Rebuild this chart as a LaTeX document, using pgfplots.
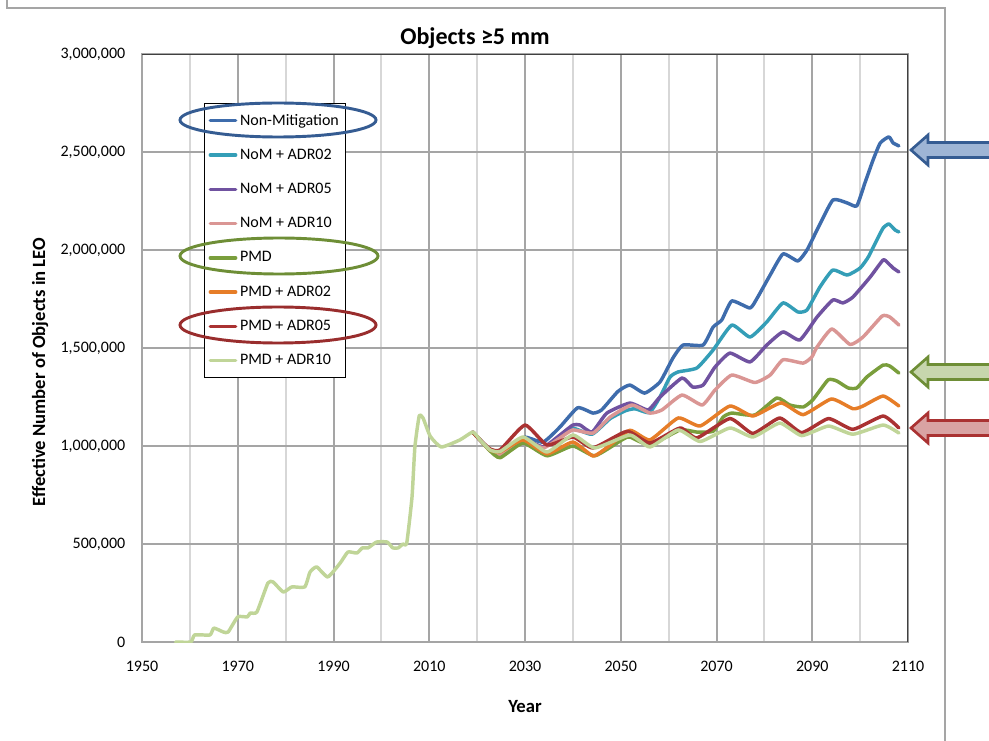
\documentclass[border=0pt]{standalone}
\usepackage{fontspec}
\setmainfont{Carlito}
\usepackage{pgfplots}
\pgfplotsset{compat=1.18}

\definecolor{nm}{RGB}{62,108,172}
\definecolor{a02}{RGB}{52,158,183}
\definecolor{a05}{RGB}{112,82,160}
\definecolor{a10}{RGB}{218,150,148}
\definecolor{pmd}{RGB}{122,158,60}
\definecolor{p02}{RGB}{230,125,40}
\definecolor{p05}{RGB}{170,50,50}
\definecolor{p10}{RGB}{192,213,152}
\definecolor{majgrid}{RGB}{165,165,165}
\definecolor{mingrid}{RGB}{215,215,215}

\begin{document}
\begin{tikzpicture}[x=0.75pt,y=0.75pt]
\path[use as bounding box] (0,0) rectangle (989,740);
\clip (0,0) rectangle (989,740);

% chart area frame
\draw[color=majgrid, line width=1.5pt] (7,760) -- (7,732) -- (945,732) -- (945,-20);

% title
\node[font=\fontsize{18}{20}\selectfont\bfseries] at (475,702) {Objects ≥5 mm};

\coordinate (plotsw) at (142,98);

\begin{axis}[
    at={(plotsw)}, anchor=south west,
    scale only axis, width=574.5pt, height=441pt,
    xmin=1950, xmax=2110, ymin=0, ymax=3000,
    xtick={1950,1970,...,2110},
    xticklabels={1950,1970,1990,2010,2030,2050,2070,2090,2110},
    minor xtick={1960,1980,...,2100},
    ytick={0,500,...,3000},
    yticklabels={0,{500,000},{1,000,000},{1,500,000},{2,000,000},{2,500,000},{3,000,000}},
    major tick length=0pt, minor tick length=0pt,
    grid=both,
    major grid style={color=majgrid, line width=1.5pt},
    minor grid style={color=mingrid, line width=1.6pt},
    axis line style={color=majgrid, line width=1.5pt},
    tick label style={font=\fontsize{12}{14}\selectfont},
    xticklabel style={yshift=-11pt},
    yticklabel style={xshift=-9pt},
    xlabel={Year}, ylabel={Effective Number of Objects in LEO},
    xlabel style={at={(rel axis cs:0.5,-0.109)}, anchor=center, font=\fontsize{14}{16}\selectfont\bfseries},
    ylabel style={at={(rel axis cs:-0.133,0.459)}, rotate=0, anchor=center, font=\fontsize{14}{16}\selectfont\bfseries},
    legend style={at={(0.081,0.917)}, anchor=north west, draw=black, line width=0.8pt,
        font=\fontsize{12}{14}\selectfont, row sep=12.4pt, inner xsep=3pt, inner ysep=6pt},
    legend cell align=left,
    legend image code/.code={\draw[#1, line width=2.6pt] (0pt,0pt) -- (19pt,0pt);},
    every axis plot/.append style={line width=2.6pt, line join=round, line cap=round, smooth, tension=0.3},
]
% Non-Mitigation
\addplot[nm] coordinates {
(2019.1,1071) (2020.6,1031) (2022.7,980) (2024.5,955) (2027,990) (2030,1045)
(2033.8,1020) (2037.3,1097) (2041,1195) (2044.2,1168) (2046,1184) (2049.4,1278)
(2051.9,1311) (2055,1270) (2058.2,1327) (2060.9,1449) (2063,1515) (2067.2,1515)
(2069.3,1607) (2071.1,1643) (2073.2,1740) (2077,1704) (2078.5,1755) (2081.2,1872)
(2083.9,1980) (2087,1944) (2088.9,2000) (2091,2102) (2094.3,2255) (2097.3,2240)
(2099.3,2225) (2101,2342) (2102.7,2459) (2104.2,2546) (2106,2577) (2106.9,2546)
(2108.1,2531)};
\addlegendentry{Non-Mitigation}
% NoM + ADR02
\addplot[a02] coordinates {
(2019.1,1071) (2020.6,1031) (2022.7,980) (2024.5,950) (2027,985) (2030,1030)
(2033.8,995) (2037,1040) (2040,1090) (2044,1060) (2047.8,1140) (2051,1180)
(2053,1190) (2056,1170) (2058.2,1250) (2060.3,1352) (2062,1378) (2065.9,1398)
(2069.3,1490) (2073.2,1617) (2077,1556) (2080.5,1633) (2083.9,1730) (2087,1684)
(2088.9,1694) (2091.6,1811) (2094.3,1898) (2097.3,1872) (2100,1908) (2101.7,1964)
(2103.5,2051) (2104.8,2112) (2106,2133) (2107.3,2102) (2108.1,2092)};
\addlegendentry{NoM + ADR02}
% NoM + ADR05
\addplot[a05] coordinates {
(2019.1,1071) (2020.6,1031) (2022.7,980) (2024.5,950) (2027,985) (2030,1031)
(2033.8,995) (2037,1050) (2040,1107) (2041.5,1107) (2044,1071) (2047.1,1168)
(2051.9,1219) (2055.7,1184) (2058.2,1250) (2062.8,1347) (2065,1301) (2067.2,1311)
(2069.7,1403) (2072.8,1474) (2077,1429) (2080.5,1515) (2083.9,1582) (2087.4,1541)
(2091,1658) (2094.3,1745) (2096.4,1730) (2098.5,1760) (2102.1,1862) (2104.8,1949)
(2105.8,1934) (2106.9,1908) (2108.1,1888)};
\addlegendentry{NoM + ADR05}
% NoM + ADR10
\addplot[a10] coordinates {
(2019.1,1071) (2020.6,1031) (2022.7,980) (2024.5,950) (2027,985) (2030,1030)
(2033.8,990) (2037.3,1041) (2040,1082) (2044.2,1066) (2047.8,1148) (2052.3,1209)
(2056.1,1168) (2058.6,1184) (2062.8,1260) (2067,1209) (2069.7,1286) (2073.2,1362)
(2078,1324) (2081.2,1362) (2083.9,1440) (2088.1,1423) (2089.9,1454) (2091,1505)
(2094.1,1597) (2097.9,1518) (2100.6,1556) (2104.6,1663) (2106.2,1658) (2108.1,1617)};
\addlegendentry{NoM + ADR10}
% PMD
\addplot[pmd] coordinates {
(2019.1,1071) (2020.6,1031) (2022.7,975) (2024.8,940) (2029.6,1015) (2034.6,950)
(2040,1000) (2044.6,950) (2050.5,1035) (2051.9,1046) (2056.1,1005) (2062.4,1082)
(2065.9,1071) (2069.3,1075) (2071.4,1148) (2073.2,1168) (2078,1158) (2082.6,1245)
(2085.3,1209) (2088.1,1199) (2090.1,1235) (2093.3,1337) (2095.1,1332) (2097.5,1296)
(2099.3,1296) (2101.4,1352) (2104.8,1413) (2106.2,1408) (2108.1,1372)};
\addlegendentry{PMD}
% PMD + ADR02
\addplot[p02] coordinates {
(2019.1,1071) (2020.6,1031) (2022.7,980) (2024.8,970) (2029.6,1031) (2034.6,960)
(2040,1020) (2044.2,949) (2047,990) (2051.9,1080) (2056.1,1031) (2062,1143)
(2066.6,1102) (2072.8,1204) (2077.6,1153) (2083.5,1220) (2088.1,1160) (2094,1240)
(2098.5,1190) (2100.6,1204) (2104.8,1255) (2108.1,1204)};
\addlegendentry{PMD + ADR02}
% PMD + ADR05
\addplot[p05] coordinates {
(2019.1,1071) (2020.6,1031) (2022.7,985) (2024.8,980) (2030,1107) (2034.6,1005)
(2040,1046) (2044.2,990) (2051.3,1075) (2056.1,1015) (2062.4,1092) (2065.9,1041)
(2072.8,1140) (2077.6,1064) (2083.2,1143) (2087.8,1068) (2093.4,1140) (2098.5,1085)
(2104.8,1153) (2108.1,1092)};
\addlegendentry{PMD + ADR05}
% PMD + ADR10 (full history, identical for all scenarios before ~2020)
\addplot[p10] coordinates {
(1957,0) (1960.2,0) (1961,36) (1964.2,36) (1965,71) (1967,51) (1968,51)
(1970,128) (1972,128) (1972.6,148) (1974,153) (1976.3,301) (1977.4,306)
(1979.5,255) (1981.3,281) (1984,281) (1985.1,357) (1986.5,383) (1988.8,332)
(1991.4,403) (1993,459) (1994.9,454) (1996,480) (1997.2,480) (1999,510)
(2001.2,510) (2002.4,480) (2003.5,480) (2004.5,500) (2005.3,505) (2006.4,740)
(2007,995) (2007.9,1153) (2008.7,1143) (2010.2,1050) (2012.5,995) (2016.4,1031)
(2019.1,1071) (2020.6,1031) (2022.7,980) (2024.8,972) (2029.6,1046) (2034.6,969)
(2040,1056) (2044.6,990) (2051.9,1056) (2056.1,995) (2062,1082) (2066.6,1023)
(2072.8,1092) (2077.6,1046) (2083.2,1117) (2087.8,1053) (2093.4,1102) (2098.5,1060)
(2104.8,1107) (2108.1,1066)};
\addlegendentry{PMD + ADR10}

% darker top and right border of the plot area
\draw[black!75, line width=1.1pt] (rel axis cs:0,1) -- (rel axis cs:1,1) -- (rel axis cs:1,0);
\end{axis}

% highlight ellipses round legend entries
\draw[color=nm!85!black, line width=2.2pt] (278,620) ellipse [x radius=98, y radius=17];
\draw[color=pmd!90!black, line width=2.2pt] (279,484) ellipse [x radius=99, y radius=18];
\draw[color=p05!90!black, line width=2.2pt] (278,415) ellipse [x radius=98, y radius=18];

% block arrows on the right
\foreach \yy/\fc/\dc in {590/{nm!50!white}/{nm!85!black}, 368/{pmd!42!white}/{pmd!90!black}, 312/{p05!45!white}/{p05}}{
  \draw[fill=\fc, draw=\dc, line width=2pt, line join=miter]
    (911,\yy) -- (928,\yy+15) -- (928,\yy+7.5) -- (1000,\yy+7.5)
    -- (1000,\yy-7.5) -- (928,\yy-7.5) -- (928,\yy-15) -- cycle;
}
\end{tikzpicture}
\end{document}
